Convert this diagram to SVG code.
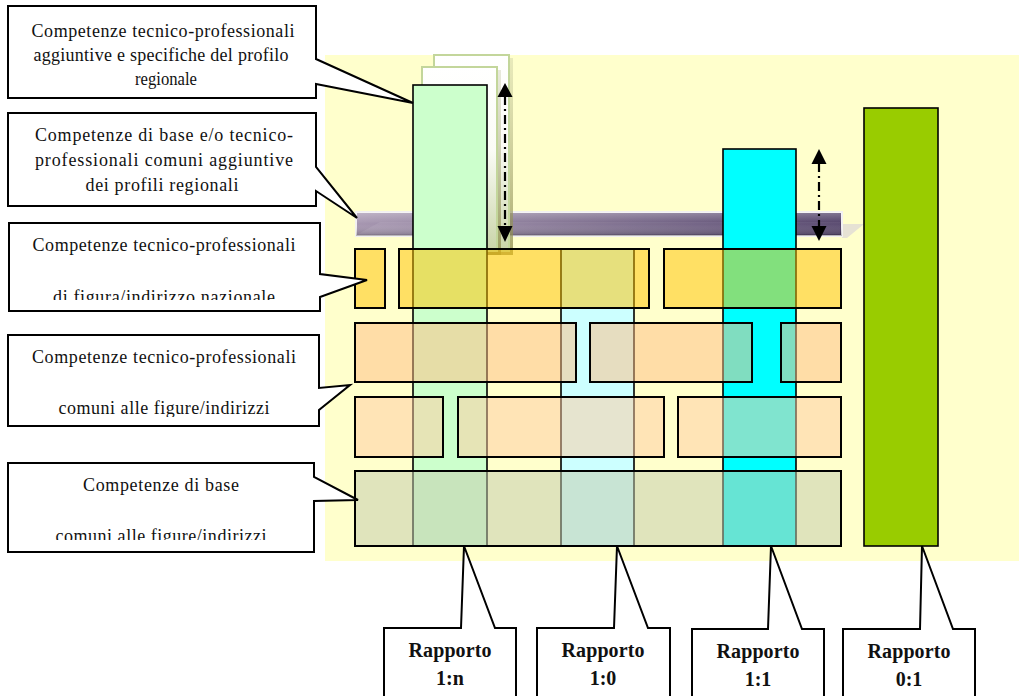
<svg xmlns="http://www.w3.org/2000/svg" width="1019" height="696" viewBox="0 0 1019 696">
<style>
.co{fill:#fff;stroke:#000;stroke-width:2;stroke-linejoin:miter}
.t{font-family:"Liberation Serif",serif;font-size:18px;fill:#111;text-anchor:middle}
.tb{font-family:"Liberation Serif",serif;font-size:20px;font-weight:bold;fill:#111;text-anchor:middle}
.col{stroke:#000;stroke-width:1.6}
.r1{fill:#ffc200;fill-opacity:0.51;stroke:#000;stroke-width:2}
.r2{fill:#ffbc81;fill-opacity:0.5;stroke:#000;stroke-width:2}
.r3{fill:#ffca9f;fill-opacity:0.5;stroke:#000;stroke-width:2}
.r4{fill:#c4ccad;fill-opacity:0.52;stroke:#000;stroke-width:2}
.paper{fill:url(#pg);stroke:#c3d69b;stroke-width:2}
.shadow{fill:url(#sg)}
.dd{stroke:#000;stroke-width:2.2;stroke-dasharray:9 4 2 4;fill:none}
</style>
<defs>
<linearGradient id="pg" x1="0" y1="0" x2="0" y2="1">
<stop offset="0" stop-color="#ffffff"/>
<stop offset="0.45" stop-color="#fbfcf6"/>
<stop offset="1" stop-color="#c9d4a8"/>
</linearGradient>
<linearGradient id="sg" x1="0" y1="0" x2="0" y2="1">
<stop offset="0" stop-color="#b4b890" stop-opacity="0.3"/>
<stop offset="1" stop-color="#8c8a4a" stop-opacity="0.75"/>
</linearGradient>
<linearGradient id="bh" x1="0" y1="0" x2="1" y2="0">
<stop offset="0" stop-color="#a696b0"/>
<stop offset="1" stop-color="#4e3e66"/>
</linearGradient>
<linearGradient id="bv" x1="0" y1="0" x2="0" y2="1">
<stop offset="0" stop-color="#ffffff" stop-opacity="0.3"/>
<stop offset="0.5" stop-color="#ffffff" stop-opacity="0"/>
<stop offset="1" stop-color="#000000" stop-opacity="0.25"/>
</linearGradient>
<clipPath id="c3"><rect x="9" y="223" width="311" height="77"/></clipPath>
<clipPath id="c4"><rect x="8" y="335" width="311" height="82"/></clipPath>
<clipPath id="c5"><rect x="8" y="463" width="306" height="77"/></clipPath>
</defs>

<rect id="background" x="325" y="55" width="694" height="506" fill="#ffffcc"/>

<g id="bar">
<polygon points="842,224 864,224 847,238 842,238" fill="#e6e2d4"/>
<rect x="356" y="212" width="486" height="24" fill="url(#bh)" stroke="#f2f0f2" stroke-width="2"/>
<rect x="356" y="212" width="486" height="24" fill="url(#bv)"/>
<polygon points="358,234 380,222 840,222 840,234" fill="#ffffff" fill-opacity="0.08"/>
</g>

<g id="papers">
<rect class="shadow" x="437" y="58" width="76" height="197"/>
<rect class="paper" x="434" y="55" width="75" height="196"/>
<rect class="shadow" x="425" y="70" width="76" height="185"/>
<rect class="paper" x="422" y="67" width="75" height="184"/>
</g>

<g id="col-1n"><rect class="col" x="413" y="85" width="74" height="461" fill="#ccffcc"/></g>
<g id="col-10"><rect class="col" x="561" y="249" width="73" height="297" fill="#ccffff"/></g>
<g id="col-11"><rect class="col" x="723" y="149" width="73" height="397" fill="#00ffff"/></g>
<g id="col-01"><rect class="col" x="864" y="108" width="74" height="438" fill="#99cc00"/></g>

<g id="row1">
<rect class="r1" x="355" y="249" width="30" height="59"/>
<rect class="r1" x="399" y="249" width="250" height="59"/>
<rect class="r1" x="664" y="249" width="177" height="59"/>
</g>
<g id="row2">
<rect class="r2" x="355" y="323" width="221" height="59"/>
<rect class="r2" x="590" y="323" width="162" height="59"/>
<rect class="r2" x="781" y="323" width="60" height="59"/>
</g>
<g id="row3">
<rect class="r3" x="355" y="397" width="88" height="60"/>
<rect class="r3" x="458" y="397" width="206" height="60"/>
<rect class="r3" x="678" y="397" width="163" height="60"/>
</g>
<g id="row4">
<rect class="r4" x="355" y="471" width="486" height="75"/>
</g>

<g id="connectors">
<line class="dd" x1="505" y1="96" x2="505" y2="227"/>
<polygon points="505,83 497.5,97 512.5,97"/>
<polygon points="505,242 497.5,226 512.5,226"/>
<line class="dd" x1="819" y1="163" x2="819" y2="227"/>
<polygon points="819,149 811.5,164 826.5,164"/>
<polygon points="819,241 811.5,226 826.5,226"/>
</g>

<g id="callout1">
<path class="co" d="M8,6 H316 V59 L413,103 L316,84 V98 H8 Z"/>
<text class="t" x="163" y="37" textLength="263" lengthAdjust="spacing">Competenze tecnico-professionali</text>
<text class="t" x="161" y="61" textLength="255" lengthAdjust="spacing">aggiuntive e specifiche del profilo</text>
<text class="t" x="166" y="85" textLength="62" lengthAdjust="spacingAndGlyphs">regionale</text>
</g>
<g id="callout2">
<path class="co" d="M8,113 H316 V167 L357,218 L316,191 V206 H8 Z"/>
<text class="t" x="164" y="141" textLength="258" lengthAdjust="spacing">Competenze di base e/o tecnico-</text>
<text class="t" x="164" y="166" textLength="258" lengthAdjust="spacing">professionali comuni aggiuntive</text>
<text class="t" x="162" y="191" textLength="153" lengthAdjust="spacing">dei profili regionali</text>
</g>
<g id="callout3">
<path class="co" d="M9,223 H320 V274 L367,280 L320,297 V311 H9 Z"/>
<text class="t" x="164" y="251" textLength="263" lengthAdjust="spacing">Competenze tecnico-professionali</text>
<text class="t" x="164" y="303" textLength="222" lengthAdjust="spacing" clip-path="url(#c3)">di figura/indirizzo nazionale</text>
</g>
<g id="callout4">
<path class="co" d="M8,335 H319 V388 L350,385 L319,410 V426 H8 Z"/>
<text class="t" x="164" y="363" textLength="264" lengthAdjust="spacing">Competenze tecnico-professionali</text>
<text class="t" x="164" y="414" textLength="211" lengthAdjust="spacing" clip-path="url(#c4)">comuni alle figure/indirizzi</text>
</g>
<g id="callout5">
<path class="co" d="M8,463 H314 V477 L358,500 L314,501 V552 H8 Z"/>
<text class="t" x="161" y="491" textLength="156" lengthAdjust="spacing">Competenze di base</text>
<text class="t" x="161" y="542" textLength="211" lengthAdjust="spacing" clip-path="url(#c5)">comuni alle figure/indirizzi</text>
</g>

<g id="label-1n">
<path class="co" d="M384,710 V628 H461 L464,546 L495,628 H516 V710"/>
<text class="tb" x="450" y="657" textLength="83" lengthAdjust="spacing">Rapporto</text>
<text class="tb" x="450" y="685">1:n</text>
</g>
<g id="label-10">
<path class="co" d="M537,710 V628 H614 L617,546 L648,628 H670 V710"/>
<text class="tb" x="603" y="657" textLength="83" lengthAdjust="spacing">Rapporto</text>
<text class="tb" x="603" y="685">1:0</text>
</g>
<g id="label-11">
<path class="co" d="M692,710 V629 H768 L771,546 L802,629 H824 V710"/>
<text class="tb" x="758" y="658" textLength="83" lengthAdjust="spacing">Rapporto</text>
<text class="tb" x="758" y="686">1:1</text>
</g>
<g id="label-01">
<path class="co" d="M843,710 V629 H920 L922,546 L953,629 H975 V710"/>
<text class="tb" x="909" y="658" textLength="83" lengthAdjust="spacing">Rapporto</text>
<text class="tb" x="909" y="686">0:1</text>
</g>
</svg>
